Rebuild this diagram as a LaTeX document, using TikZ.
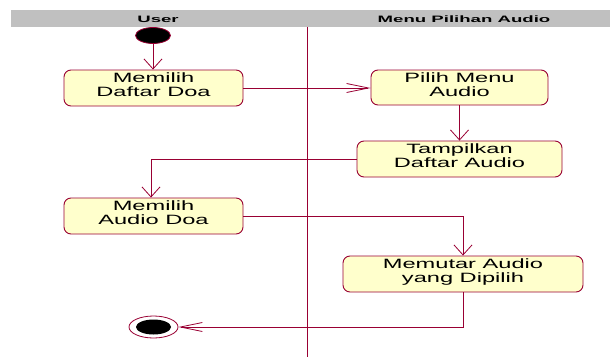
\documentclass[tikz,border=0pt]{standalone}
\usepackage{fontspec}
\setmainfont{Liberation Sans}
\newfontfamily\boxfont[FakeStretch=1.75]{Liberation Sans}
\newfontfamily\headfont[FakeStretch=2]{Liberation Sans}
\usetikzlibrary{arrows.meta,shapes.geometric}
\definecolor{lc}{RGB}{153,0,51}
\definecolor{boxfill}{RGB}{255,255,204}
\definecolor{headgray}{RGB}{192,192,192}
\newcommand{\dn}{\rule[-6pt]{0pt}{6pt}}
\begin{document}
\begin{tikzpicture}[x=1pt,y=-1pt,
  act/.style={draw=lc, fill=boxfill, rounded corners=7pt, line width=0.9pt, inner sep=0pt,
    align=center, font=\boxfont\fontsize{13.5}{13.8}\selectfont},
  head/.style={anchor=base, inner sep=0pt, font=\headfont\bfseries\fontsize{9.3}{10}\selectfont},
  flow/.style={draw=lc, line width=0.8pt},
  vtip/.style={-{Straight Barb[length=10pt,width=18pt]}},
  htip/.style={-{Straight Barb[length=22pt,width=9pt]}}
]
\path[use as bounding box] (0,0) rectangle (610,361);
% header
\fill[headgray] (11,10) rectangle (610,27);
\node[head] (hu) at (158,22.5) {User};
\node[head] (hm) at (464,22.5) {Menu Pilihan Audio};
% lane divider
\coordinate (dtop) at (307,27);
\coordinate (dbot) at (307,357);
\draw[lc, line width=0.8pt] (dtop) -- (dbot);
% initial and final nodes
\node[ellipse, draw=lc, fill=black, line width=0.8pt, minimum width=35pt, minimum height=16pt, inner sep=0pt] (start) at (153,35.5) {};
\node[ellipse, draw=lc, fill=white, line width=0.8pt, minimum width=49pt, minimum height=22pt, inner sep=0pt] (end) at (153.5,327) {};
\node[ellipse, fill=black, minimum width=35pt, minimum height=15pt, inner sep=0pt] (endin) at (end.center) {};
% activities
\node[act, minimum width=179pt, minimum height=36pt] (b1) at (153.5,88) {Memilih\\Daftar Doa\dn};
\node[act, minimum width=177pt, minimum height=35pt] (b2) at (459.5,87.5) {Pilih Menu\\Audio\dn};
\node[act, minimum width=205pt, minimum height=36pt] (b3) at (459.5,159) {Tampilkan\\Daftar Audio\dn};
\node[act, minimum width=179pt, minimum height=36pt] (b4) at (153.5,216) {Memilih\\Audio Doa\dn};
\node[act, minimum width=240pt, minimum height=36pt] (b5) at (463,274) {Memutar Audio\\yang Dipilih\dn};
% flows
\coordinate (c34) at (151,159);
\draw[flow,vtip] (start.south) -- (start.south |- b1.north);
\draw[flow,htip] (b1.east) -- (b1.east -| b2.west);
\draw[flow,vtip] (b2.south) -- (b3.north);
\draw[flow,vtip] (b3.west) -- (c34) -- (c34 |- b4.north);
\draw[flow,vtip] (b4.east) -| (b5.north);
\draw[flow,htip] (b5.south) |- (end.east);
\end{tikzpicture}
\end{document}
